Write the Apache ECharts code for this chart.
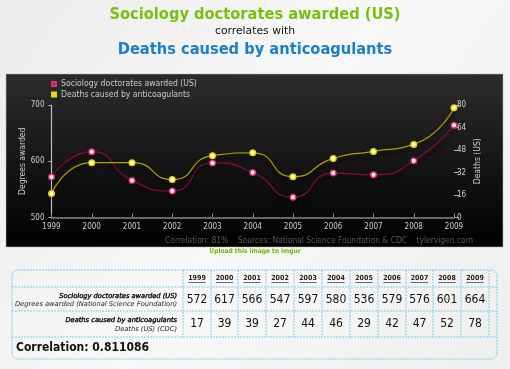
<!DOCTYPE html>
<html><head><meta charset="utf-8">
<script src="https://cdn.jsdelivr.net/npm/echarts@6/dist/echarts.min.js"></script>
<style>html,body{margin:0;padding:0;}#c{width:510px;height:369px;}</style>
</head><body><div id="c"></div>
<script>
const years = ['1999','2000','2001','2002','2003','2004','2005','2006','2007','2008','2009'];
const sociology = [572,617,566,547,597,580,536,579,576,601,664];
const deaths = [17,39,39,27,44,46,29,42,47,52,78];
const correlation = '0.811086';

const FONT = '"DejaVu Sans Condensed", "DejaVu Sans", sans-serif';
const FONT_R = '"DejaVu Sans", sans-serif';
const chart = echarts.init(document.getElementById('c'), null, {renderer:'canvas'});

// table geometry
const colX = [183,211,238,266,294,322,350,378,406,433,461,489];
const rowY = [270,287,311,337,359];
const tL = 12, tR = 497;
const dash = {stroke:'#86c8ee', lineWidth:1, lineDash:[2,1]};
const g = [];
g.push({type:'rect', z:-10, shape:{x:0,y:0,width:510,height:369},
  style:{fill:new echarts.graphic.LinearGradient(0,0,1,1,[{offset:0,color:'#ececec'},{offset:0.5,color:'#f8f8f8'},{offset:1,color:'#efefef'}])}});
g.push({type:'rect', z:-9, shape:{x:6,y:74,width:497,height:173},
  style:{fill:new echarts.graphic.LinearGradient(0,0,0,1,[{offset:0,color:'#2c2c2c'},{offset:1,color:'#000000'}]), stroke:'#bbb', lineWidth:0.5}});
g.push({type:'text', style:{x:255, y:14.5, text:'Sociology doctorates awarded (US)', fill:'#77c010', font:'bold 16.3px '+FONT, align:'center', verticalAlign:'middle'}});
g.push({type:'text', style:{x:255, y:31, text:'correlates with', fill:'#111', font:'10.8px '+FONT_R, align:'center', verticalAlign:'middle'}});
g.push({type:'text', style:{x:255, y:49.5, text:'Deaths caused by anticoagulants', fill:'#1a7ec8', font:'bold 16.3px '+FONT, align:'center', verticalAlign:'middle'}});
g.push({type:'text', z:5, style:{x:473, y:240.5, text:'Correlation: 81%    Sources: National Science Foundation & CDC    tylervigen.com', fill:'#5a5a5a', font:'8.4px '+FONT, align:'right', verticalAlign:'middle'}});
g.push({type:'text', style:{x:255, y:251.7, text:'Upload this image to imgur', fill:'#66bb00', font:'bold 6.6px '+FONT, align:'center', verticalAlign:'middle'}});
// table outline
g.push({type:'rect', shape:{x:tL,y:rowY[0],width:tR-tL,height:rowY[4]-rowY[0],r:6}, style:Object.assign({fill:'none'},dash)});
for (let i=1;i<4;i++) g.push({type:'line', shape:{x1:tL,y1:rowY[i],x2:tR,y2:rowY[i]}, style:dash});
for (let i=0;i<colX.length;i++) g.push({type:'line', shape:{x1:colX[i],y1:rowY[0],x2:colX[i],y2:rowY[3]}, style:dash});
for (let i=0;i<years.length;i++){
  const cx=(colX[i]+colX[i+1])/2;
  g.push({type:'text', style:{x:cx,y:277.7,text:years[i],fill:'#222',font:'bold 7px '+FONT,align:'center',verticalAlign:'middle'}});
  g.push({type:'line', shape:{x1:cx-8.7,y1:282.5,x2:cx+8.7,y2:282.5}, style:{stroke:'#444',lineWidth:0.8}});
  g.push({type:'text', style:{x:cx,y:299.7,text:String(sociology[i]),fill:'#111',font:'12px '+FONT,align:'center',verticalAlign:'middle'}});
  g.push({type:'text', style:{x:cx,y:323.5,text:String(deaths[i]),fill:'#111',font:'12px '+FONT,align:'center',verticalAlign:'middle'}});
}
const lab = 'italic 6.7px '+FONT_R;
g.push({type:'text', style:{x:177,y:296,text:'Sociology doctorates awarded (US)',fill:'#111',stroke:'#111',lineWidth:0.4,font:lab,align:'right',verticalAlign:'middle'}});
g.push({type:'text', style:{x:177,y:304.5,text:'Degrees awarded (National Science Foundation)',fill:'#222',font:lab,align:'right',verticalAlign:'middle'}});
g.push({type:'text', style:{x:177,y:320,text:'Deaths caused by anticoagulants',fill:'#111',stroke:'#111',lineWidth:0.4,font:lab,align:'right',verticalAlign:'middle'}});
g.push({type:'text', style:{x:177,y:328.8,text:'Deaths (US) (CDC)',fill:'#222',font:lab,align:'right',verticalAlign:'middle'}});
g.push({type:'text', style:{x:16,y:348,text:'Correlation: '+correlation,fill:'#111',font:'bold 12px '+FONT,verticalAlign:'middle'}});

const axisLabel = {color:'#cfcfcf', fontSize:8, fontFamily:FONT};
chart.setOption({
  animation:false,
  textStyle:{fontFamily:FONT},
  graphic:g,
  legend:{orient:'vertical', left:51, top:79.5, padding:0, itemWidth:4, itemHeight:4, itemGap:1.5, icon:'rect',
    textStyle:{color:'#cccccc', fontSize:8.6, fontFamily:FONT},
    data:[{name:'Sociology doctorates awarded (US)', itemStyle:{color:'#c8105a'}},{name:'Deaths caused by anticoagulants', itemStyle:{color:'#e8e000'}}]},
  grid:{left:51.5, right:56, top:105, bottom:151.5},
  xAxis:{type:'category', data:years, boundaryGap:false,
    axisLine:{lineStyle:{color:'#888',width:1.5}}, axisTick:{show:true,inside:true,length:4,lineStyle:{color:'#888'}},
    axisLabel:Object.assign({margin:5},axisLabel)},
  yAxis:[
    {type:'value', min:500, max:700, interval:100, name:'Degrees awarded', nameLocation:'middle', nameGap:24, nameMoveOverlap:false,
     nameTextStyle:{color:'#cfcfcf', fontSize:8.5, fontFamily:FONT},
     axisLine:{show:true,lineStyle:{color:'#bbb',width:1.2}}, axisTick:{show:true,length:3,lineStyle:{color:'#bbb'}},
     splitLine:{show:false}, axisLabel:Object.assign({margin:7},axisLabel)},
    {type:'value', min:0, max:80, interval:16, position:'right', name:'Deaths (US)', nameLocation:'middle', nameGap:19, nameMoveOverlap:false,
     nameTextStyle:{color:'#cfcfcf', fontSize:8.5, fontFamily:FONT},
     axisLine:{show:false}, axisTick:{show:true,length:5,lineStyle:{color:'#aaa'}},
     splitLine:{show:false}, axisLabel:Object.assign({margin:3},axisLabel)}
  ],
  series:[
    {name:'Sociology doctorates awarded (US)', type:'line', yAxisIndex:0, data:sociology, smooth:0.6,
     symbol:'circle', symbolSize:5.5, lineStyle:{color:'#8a0a3c', width:1.2, shadowColor:'rgba(0,0,0,0.9)', shadowBlur:4, shadowOffsetY:4},
     itemStyle:{color:'#ffffff', borderColor:'#e0306a', borderWidth:1.5}},
    {name:'Deaths caused by anticoagulants', type:'line', yAxisIndex:1, data:deaths, smooth:0.6,
     symbol:'circle', symbolSize:5.5, lineStyle:{color:'#b0a000', width:1.2, shadowColor:'rgba(0,0,0,0.9)', shadowBlur:4, shadowOffsetY:4},
     itemStyle:{color:'#ffffe0', borderColor:'#e8d800', borderWidth:1.5}}
  ]
});
</script></body></html>
